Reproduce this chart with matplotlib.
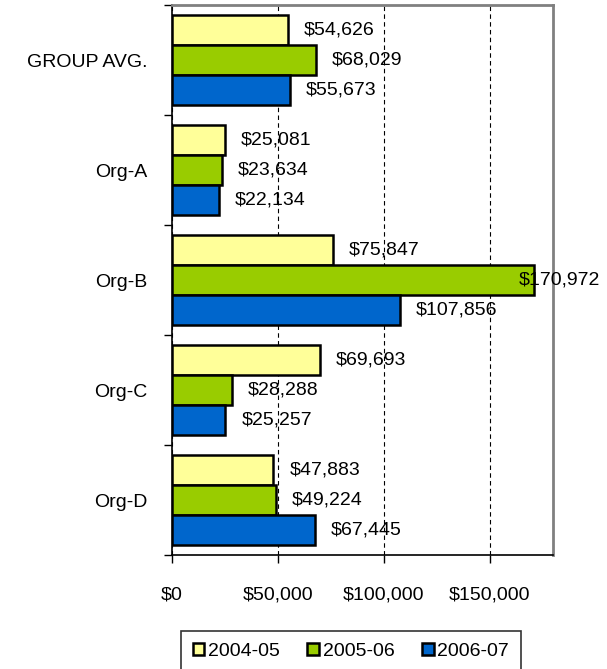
import matplotlib.pyplot as plt
import numpy as np
from matplotlib.ticker import FuncFormatter

plt.rcParams['font.family'] = ['Liberation Sans', 'DejaVu Sans']

# data
orgs = ['GROUP AVG.', 'Org-A', 'Org-B', 'Org-C', 'Org-D']
years = ['2004-05', '2005-06', '2006-07']
fy0405 = [54626, 25081, 75847, 69693, 47883]
fy0506 = [68029, 23634, 170972, 28288, 49224]
fy0607 = [55673, 22134, 107856, 25257, 67445]
colors = ['#FFFF99', '#99CC00', '#0066CC']

fs = 14

fig = plt.figure(figsize=(6.07, 6.69), dpi=100)
ax = fig.add_axes([0.2834, 0.1704, 0.6277, 0.8221])

pos = np.arange(len(orgs))
h = 0.27
series = [fy0405, fy0506, fy0607]
for i, (vals, c, lab) in enumerate(zip(series, colors, years)):
    y = pos + (i - 1) * h
    ax.barh(y, vals, height=h, color=c, edgecolor='black', linewidth=1.8, label=lab, zorder=3)
    for yy, v in zip(y, vals):
        xl = min(v + 7500, 164000)
        ax.text(xl, yy, '${:,}'.format(v), va='center', ha='left', fontsize=fs, zorder=4)

ax.set_xlim(0, 180000)
ax.set_ylim(4.5, -0.5)
ax.set_xticks([0, 50000, 100000, 150000])
ax.xaxis.set_major_formatter(FuncFormatter(lambda v, p: '${:,.0f}'.format(v)))
ax.grid(axis='x', color='black', linestyle=(0, (4, 3)), linewidth=0.8, zorder=0)

ax.set_yticks(pos)
ax.set_yticklabels(orgs)
ax.set_yticks(np.arange(-0.5, 5, 1), minor=True)
ax.tick_params(axis='y', which='major', length=0, pad=18, labelsize=fs)
ax.tick_params(axis='y', which='minor', length=6, width=1, direction='out')
ax.tick_params(axis='x', length=6, width=1, direction='out', pad=17, labelsize=fs)

for s in ['left', 'bottom']:
    ax.spines[s].set_color('black')
    ax.spines[s].set_linewidth(1.2)
for s in ['top', 'right']:
    ax.spines[s].set_color('#808080')
    ax.spines[s].set_linewidth(2)

leg = fig.legend(loc='upper left', bbox_to_anchor=(181 / 607, 1 - 631 / 669), ncol=3,
                 frameon=True, fancybox=False, fontsize=fs, handlelength=0.6,
                 handleheight=0.6, handletextpad=0.2, columnspacing=1.4,
                 borderpad=0.6, borderaxespad=0)
leg.get_frame().set_edgecolor('black')
leg.get_frame().set_linewidth(1.2)

fig.savefig('out.png', dpi=100)
